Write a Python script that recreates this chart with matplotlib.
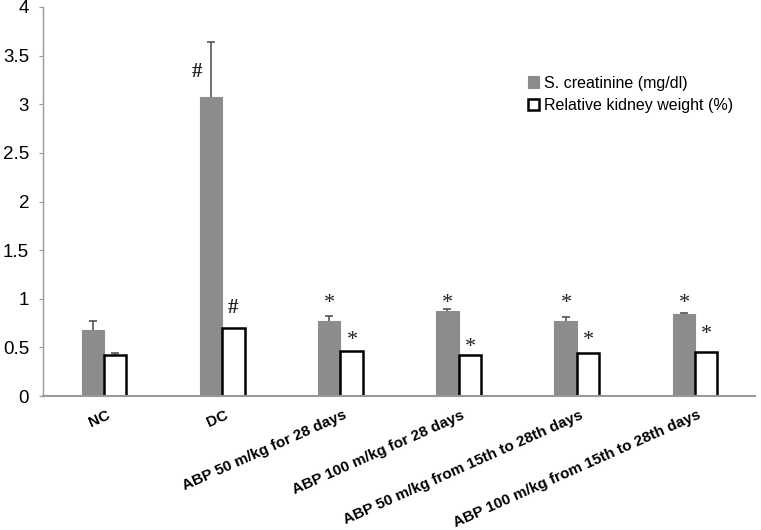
import matplotlib
matplotlib.use("Agg")
import matplotlib.pyplot as plt
import matplotlib.transforms as mtransforms
import numpy as np

categories = ["NC", "DC", "ABP 50 m/kg for 28 days", "ABP 100 m/kg for 28 days",
              "ABP 50 m/kg from 15th to 28th days", "ABP 100 m/kg from 15th to 28th days"]
creatinine = [0.68, 3.07, 0.77, 0.875, 0.77, 0.84]
creatinine_err = [0.09, 0.57, 0.05, 0.02, 0.045, 0.015]
kidney_wt = [0.42, 0.70, 0.465, 0.42, 0.445, 0.45]
kidney_err = [0.02, 0.0, 0.0, 0.0, 0.0, 0.0]
creat_marks = ["", "#", "*", "*", "*", "*"]
kidney_marks = ["", "#", "*", "*", "*", "*"]
creat_mark_y = [None, 3.33, 0.95, 0.95, 0.95, 0.95]
kidney_mark_y = [None, 0.90, 0.57, 0.50, 0.57, 0.63]
yticks = [0, 0.5, 1, 1.5, 2, 2.5, 3, 3.5, 4]
ytick_labels = ["0", "0.5", "1", "1.5", "2", "2.5", "3", "3.5", "4"]

plt.rcParams['font.family'] = ['Liberation Sans', 'DejaVu Sans']

fig = plt.figure(figsize=(7.61, 5.30), dpi=100)
ax = fig.add_axes([0.0565, 0.2528, 0.9355, 0.734])

x = np.arange(len(categories))
w = 0.19
gray = "#8c8c8c"
ax.bar(x - w / 2, creatinine, w, color=gray, edgecolor=gray, linewidth=0.8,
       label="S. creatinine (mg/dl)", zorder=2)
ax.bar(x + w / 2, kidney_wt, w, color="white", edgecolor="black", linewidth=1.8,
       label="Relative kidney weight (%)", zorder=2)

ce = np.array(creatinine_err)
ke = np.array(kidney_err)
m1 = ce > 0
m2 = ke > 0
ax.errorbar((x - w / 2)[m1], np.array(creatinine)[m1], yerr=ce[m1],
            fmt="none", ecolor="#555555", elinewidth=1.2, capsize=3, capthick=1.2, zorder=1)
ax.errorbar((x + w / 2)[m2], np.array(kidney_wt)[m2], yerr=ke[m2],
            fmt="none", ecolor="#555555", elinewidth=1.2, capsize=3, capthick=1.2, zorder=1)

serif = ["Liberation Serif", "DejaVu Serif"]
for i in range(len(categories)):
    if creat_marks[i]:
        is_hash = creat_marks[i] == "#"
        dx = -0.215 if is_hash else -0.09
        ax.text(i + dx, creat_mark_y[i], creat_marks[i], ha="center", va="center",
                fontsize=15 if is_hash else 16, fontweight="bold" if is_hash else "normal",
                family=serif, color="#222222")
    if kidney_marks[i]:
        is_hash = kidney_marks[i] == "#"
        dx = 0.095 if is_hash else 0.10
        ax.text(i + dx, kidney_mark_y[i], kidney_marks[i], ha="center", va="center",
                fontsize=15 if is_hash else 16, fontweight="bold" if is_hash else "normal",
                family=serif, color="#222222")

ax.set_xlim(-0.516, 5.507)
ax.set_ylim(0, 4)
ax.set_yticks(yticks)
ax.set_yticklabels(ytick_labels, fontsize=13.5)
ax.tick_params(axis="y", length=3, color="#999999", pad=7)
ax.set_xticks([])
for s in ["top", "right"]:
    ax.spines[s].set_visible(False)
ax.spines["left"].set_color("#999999")
ax.spines["bottom"].set_color("#999999")
ax.spines["left"].set_linewidth(1.0)
ax.spines["bottom"].set_linewidth(1.5)

trans = mtransforms.blended_transform_factory(ax.transData, ax.transAxes)
offset = mtransforms.ScaledTranslation(0, -12 / 100, fig.dpi_scale_trans)
for i, lab in enumerate(categories):
    ax.text(i + 0.02, 0, lab, transform=trans + offset, rotation=24,
            rotation_mode="anchor", ha="right", va="top", fontsize=11,
            fontweight="bold")

leg = ax.legend(loc="upper left", bbox_to_anchor=(0.672, 0.84), frameon=False,
                fontsize=11.5, handlelength=0.7, handleheight=0.7, handletextpad=0.3,
                labelspacing=0.45, borderaxespad=0)

fig.savefig("out.png", dpi=100)
